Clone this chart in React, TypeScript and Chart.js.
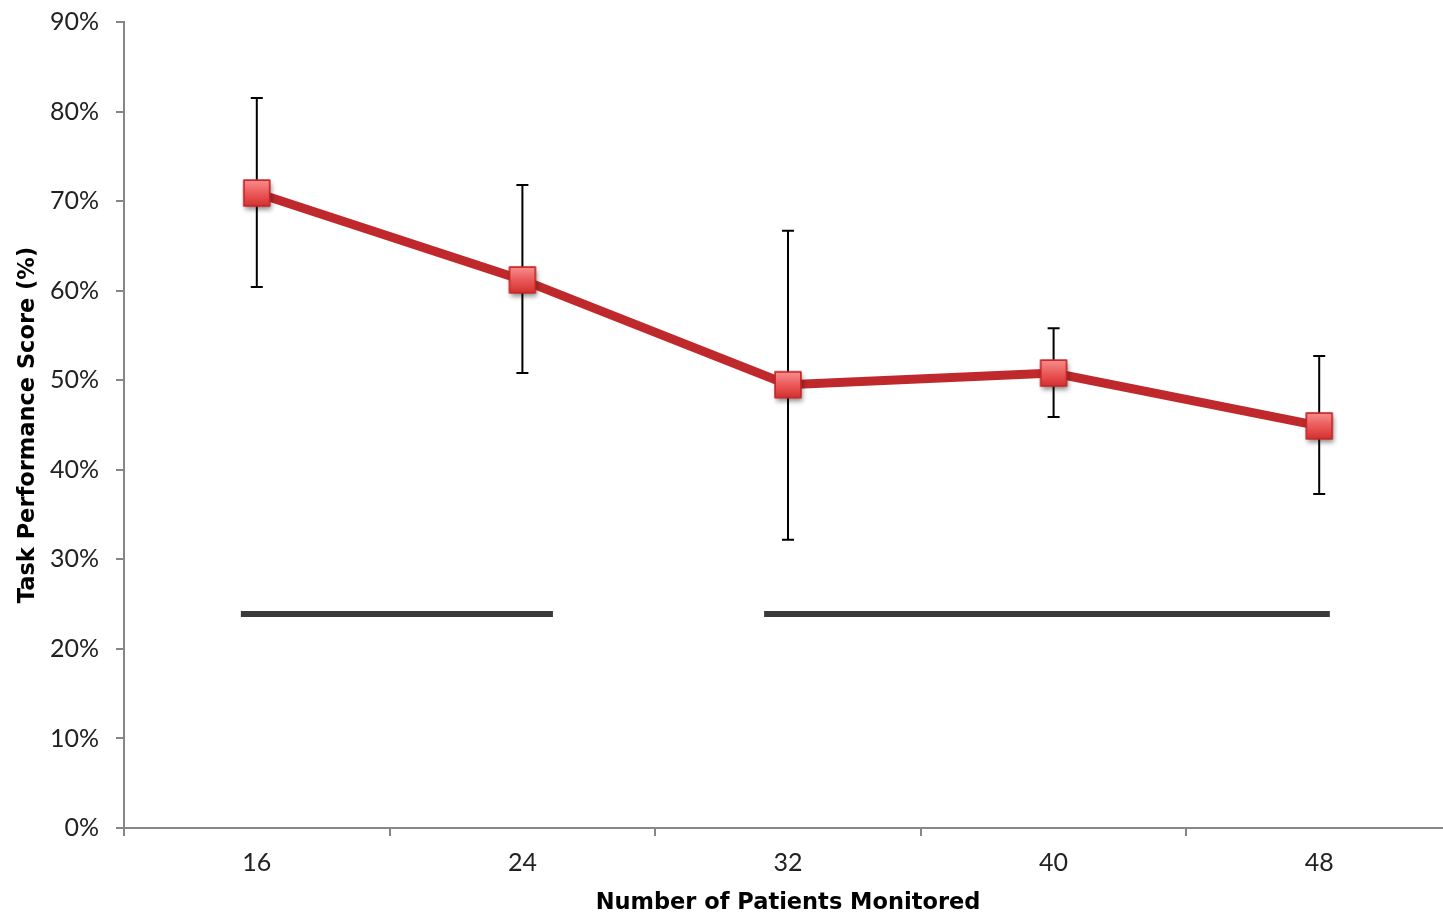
import React, { useEffect, useRef } from "react";
import { Chart, registerables } from "chart.js";

Chart.register(...registerables);

const categories = ["16", "24", "32", "40", "48"];
const scores = [70.9, 61.2, 49.5, 50.8, 44.9];
const errUpper = [81.5, 71.8, 66.7, 55.8, 52.7];
const errLower = [60.4, 50.8, 32.2, 45.9, 37.3];
const yTicks = [0, 10, 20, 30, 40, 50, 60, 70, 80, 90];
// significance bars: start / end in category-index units, level in %
const sigStart = [-0.06, 1.91];
const sigEnd = [1.115, 4.04];
const sigLevel = [23.9, 23.9];

const FONT = "Lato, 'Noto Sans', sans-serif";
const TITLE_FONT = "'DejaVu Sans', sans-serif";

function makeMarker(): HTMLCanvasElement {
  const c = document.createElement("canvas");
  const size = 44;
  c.width = size;
  c.height = size;
  const ctx = c.getContext("2d")!;
  const s = 27;
  const x0 = (size - s) / 2;
  const y0 = (size - s) / 2;
  ctx.save();
  ctx.shadowColor = "rgba(0,0,0,0.45)";
  ctx.shadowBlur = 5;
  ctx.shadowOffsetX = 1;
  ctx.shadowOffsetY = 3;
  ctx.fillStyle = "#c82a2a";
  ctx.fillRect(x0, y0, s, s);
  ctx.restore();
  const g = ctx.createLinearGradient(0, y0, 0, y0 + s);
  g.addColorStop(0, "#f89090");
  g.addColorStop(0.5, "#ec5a5a");
  g.addColorStop(1, "#d42e2e");
  ctx.fillStyle = g;
  ctx.fillRect(x0 + 1.5, y0 + 1.5, s - 3, s - 3);
  ctx.strokeStyle = "#c42828";
  ctx.lineWidth = 1.5;
  ctx.strokeRect(x0 + 0.75, y0 + 0.75, s - 1.5, s - 1.5);
  return c;
}

const overlayPlugin = {
  id: "overlays",
  beforeDatasetsDraw(chart: any) {
    const ctx = chart.ctx;
    const x = chart.scales.x;
    const y = chart.scales.y;
    ctx.save();
    // significance bars
    ctx.strokeStyle = "#3a3a3a";
    ctx.lineWidth = 6;
    ctx.lineCap = "butt";
    for (let i = 0; i < sigStart.length; i++) {
      const py = y.getPixelForValue(sigLevel[i]);
      ctx.beginPath();
      ctx.moveTo(x.getPixelForValue(sigStart[i]), py);
      ctx.lineTo(x.getPixelForValue(sigEnd[i]), py);
      ctx.stroke();
    }
    // error bars
    ctx.strokeStyle = "#000";
    ctx.lineWidth = 2;
    for (let i = 0; i < categories.length; i++) {
      const px = x.getPixelForValue(i);
      const top = y.getPixelForValue(errUpper[i]);
      const bot = y.getPixelForValue(errLower[i]);
      ctx.beginPath();
      ctx.moveTo(px, top);
      ctx.lineTo(px, bot);
      ctx.moveTo(px - 6, top);
      ctx.lineTo(px + 6, top);
      ctx.moveTo(px - 6, bot);
      ctx.lineTo(px + 6, bot);
      ctx.stroke();
    }
    ctx.restore();
  },
};

const zeroPad = (s: any) => {
  s.paddingTop = 0;
  s.paddingBottom = 0;
  s.paddingLeft = 0;
  s.paddingRight = 0;
};

export default function App() {
  const ref = useRef<HTMLCanvasElement | null>(null);
  useEffect(() => {
    if (!ref.current) return;
    const marker = makeMarker();
    const chart = new Chart(ref.current, {
      type: "line",
      data: {
        labels: categories,
        datasets: [
          {
            data: scores,
            borderColor: "#c0292b",
            borderWidth: 9,
            pointStyle: marker as any,
            pointRadius: 14,
            pointHoverRadius: 14,
            tension: 0,
          },
        ],
      },
      options: {
        animation: false,
        responsive: false,
        devicePixelRatio: 1,
        layout: { autoPadding: false, padding: { left: 4, right: 10, top: 22, bottom: 0 } },
        plugins: { legend: { display: false }, tooltip: { enabled: false } },
        scales: {
          x: {
            type: "category",
            offset: true,
            grid: {
              offset: true,
              drawOnChartArea: false,
              drawTicks: true,
              tickLength: 8,
              color: "#868686",
              lineWidth: 2,
            },
            border: { display: true, color: "#868686", width: 2 },
            ticks: {
              color: "#222",
              padding: 12,
              font: { family: FONT, size: 25 },
            },
            title: {
              display: true,
              text: "Number of Patients Monitored",
              color: "#000",
              font: { family: TITLE_FONT, size: 22.5, weight: "bold" },
              padding: { top: 4, bottom: 0 },
            },
            afterFit: (s: any) => {
              s.height = 89;
              zeroPad(s);
            },
          },
          y: {
            min: 0,
            max: 90,
            afterBuildTicks: (s: any) => {
              s.ticks = yTicks.map((v) => ({ value: v }));
            },
            grid: {
              drawOnChartArea: false,
              drawTicks: true,
              tickLength: 8,
              color: "#868686",
              lineWidth: 2,
            },
            border: { display: true, color: "#868686", width: 2 },
            ticks: {
              color: "#222",
              padding: 17,
              font: { family: FONT, size: 25 },
              callback: (v: any) => v + "%",
            },
            title: {
              display: true,
              text: "Task Performance Score (%)",
              color: "#000",
              font: { family: TITLE_FONT, size: 22.5, weight: "bold" },
              padding: { top: 11, bottom: 0 },
            },
            afterFit: (s: any) => {
              s.width = 120;
              zeroPad(s);
            },
          },
        },
      },
      plugins: [overlayPlugin],
    });
    return () => chart.destroy();
  }, []);
  return (
    <div
      style={{
        position: "absolute",
        left: 0,
        top: 0,
        width: 1443,
        height: 917,
        overflow: "hidden",
        background: "#fff",
      }}
    >
      <canvas ref={ref} width={1462} height={917} style={{ display: "block" }} />
    </div>
  );
}
